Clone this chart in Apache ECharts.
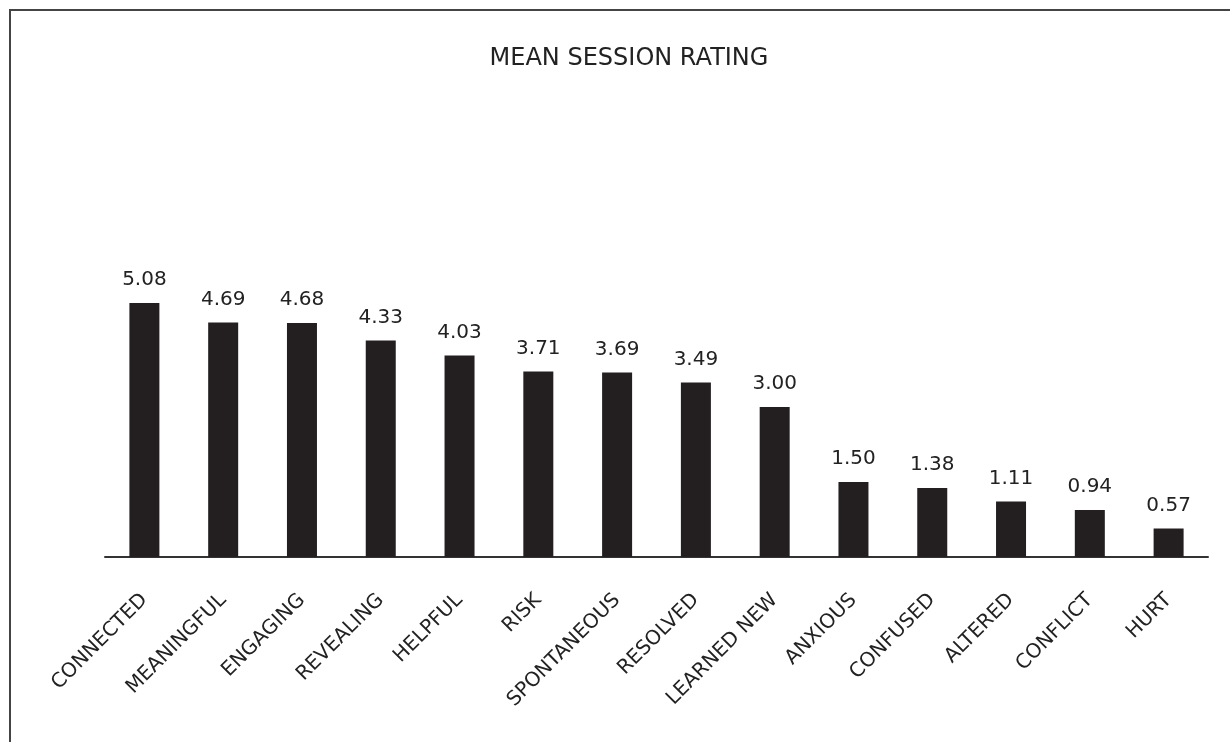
<!DOCTYPE html>
<html>
<head>
<meta charset="utf-8">
<script src="https://cdn.jsdelivr.net/npm/echarts@6/dist/echarts.min.js"></script>
<style>
html,body{margin:0;padding:0;background:#fff;}
#frame{position:absolute;left:9px;top:9px;width:1240px;height:760px;border-top:2px solid #444;border-left:2px solid #444;box-sizing:border-box;}
#chart{position:absolute;left:0;top:0;width:1230px;height:742px;}
</style>
</head>
<body>
<div id="frame"></div>
<div id="chart"></div>
<script>
const categories = ["CONNECTED","MEANINGFUL","ENGAGING","REVEALING","HELPFUL","RISK","SPONTANEOUS","RESOLVED","LEARNED NEW","ANXIOUS","CONFUSED","ALTERED","CONFLICT","HURT"];
const ratings = [5.08,4.69,4.68,4.33,4.03,3.71,3.69,3.49,3.00,1.50,1.38,1.11,0.94,0.57];
const titleText = "MEAN SESSION RATING";

const chart = echarts.init(document.getElementById('chart'), null, {renderer:'canvas'});
const font = "'DejaVu Sans', 'Liberation Sans', sans-serif";
chart.setOption({
  animation:false,
  backgroundColor:'transparent',
  title:{
    text:titleText, left:624, top:42, textAlign:'center',
    textStyle:{fontFamily:font, fontSize:24, fontWeight:'normal', color:'#222'}
  },
  grid:{left:105, right:22, top:257, bottom:185, containLabel:false},
  xAxis:{
    type:'category', data:categories,
    axisLine:{show:true, lineStyle:{color:'#333', width:2}},
    axisTick:{show:false},
    axisLabel:{rotate:45, margin:40, interval:0, fontFamily:font, fontSize:20, color:'#222'}
  },
  yAxis:{
    type:'value', min:0, max:6, show:false,
    splitLine:{show:false}
  },
  series:[{
    type:'bar', data:ratings, barWidth:30,
    itemStyle:{color:'#231f20'},
    label:{show:true, position:'top', distance:13, fontFamily:font, fontSize:20, color:'#222',
      formatter:p=>p.value.toFixed(2)}
  }]
});
</script>
</body>
</html>
